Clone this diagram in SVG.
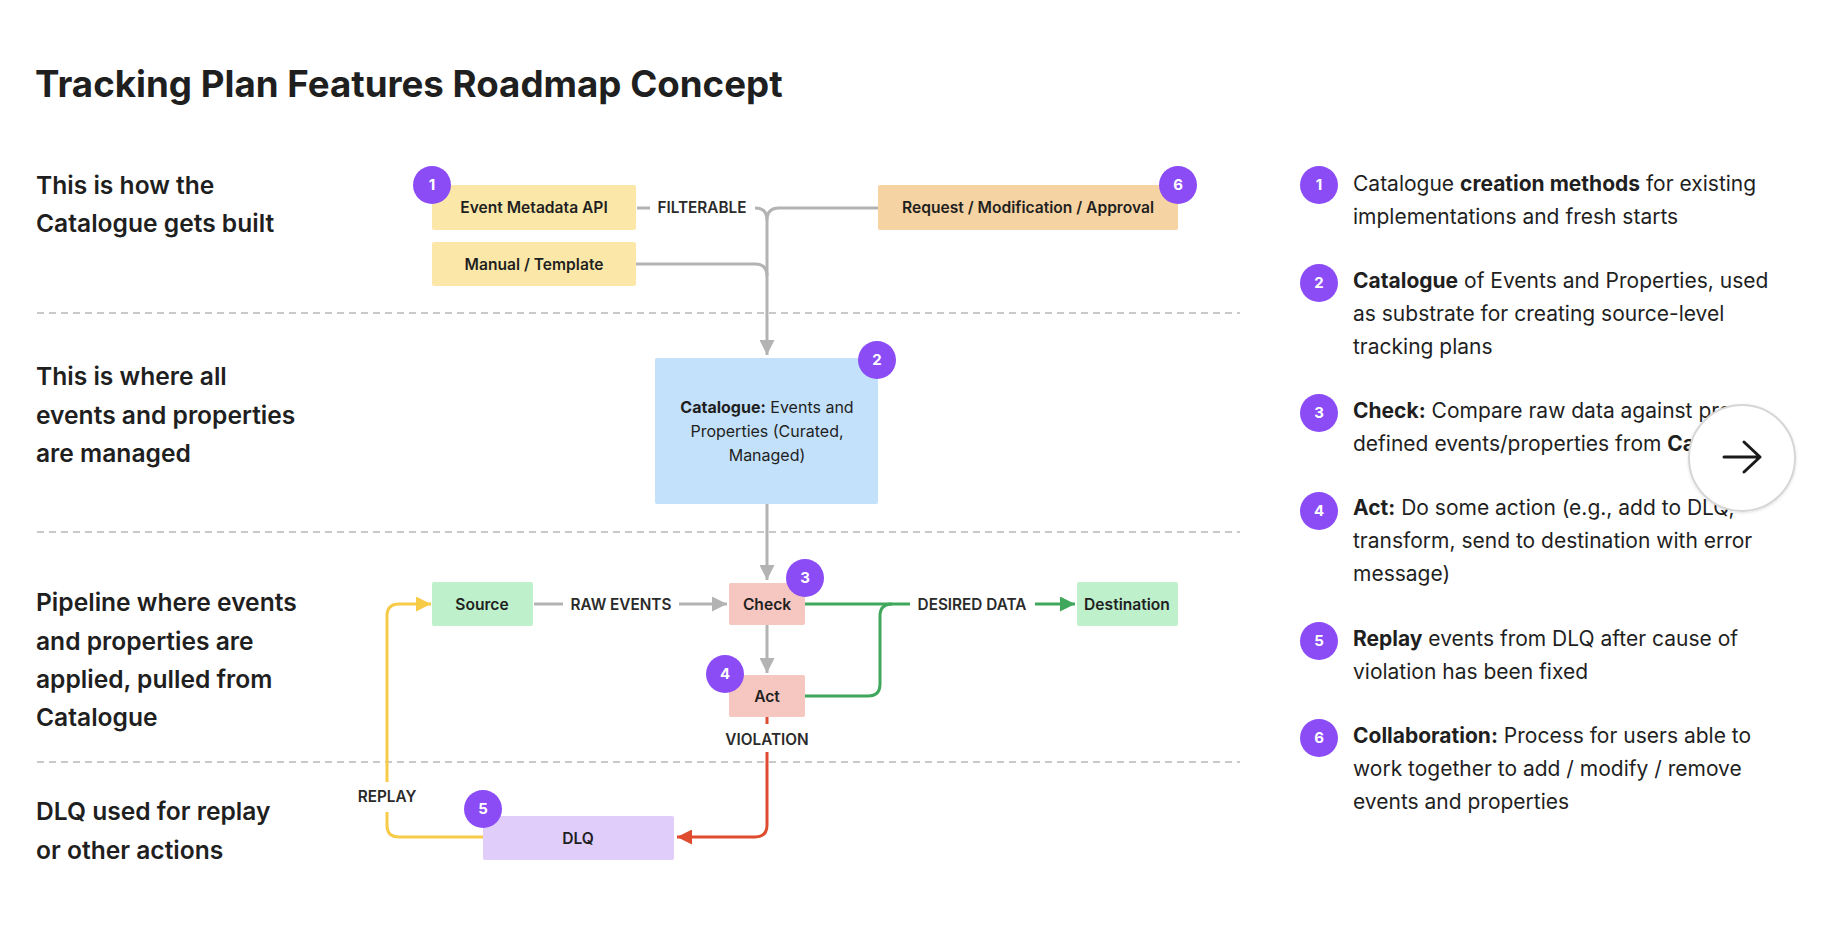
<svg xmlns="http://www.w3.org/2000/svg" width="1846" height="926" viewBox="0 0 1846 926">
<defs>
<style>
text{font-family:Inter,"Liberation Sans",sans-serif;fill:#1f1f1f}
.title{font-size:36.7px;font-weight:700}
.sec{font-size:24.6px;font-weight:600}
.box{font-size:15.6px;font-weight:600;text-anchor:middle}
.cat{font-size:16px;text-anchor:middle}
.lbl{font-size:15.3px;font-weight:600;text-anchor:middle;fill:#2a2a2a}
.badge circle{fill:#8b4cf6}
.badge text{fill:#fff;font-size:15px;font-weight:700;text-anchor:middle}
.list{font-size:21px}
.b{font-weight:700}
.sep{stroke:#c9c9c9;stroke-width:2;stroke-dasharray:7 5;fill:none}
.g{stroke:#b3b3b3;stroke-width:3;fill:none}
.gr{stroke:#3ea75b;stroke-width:3;fill:none}
.rd{stroke:#df4b2e;stroke-width:3;fill:none}
.yl{stroke:#f7cb48;stroke-width:3;fill:none}
</style>
<marker id="ag" viewBox="0 0 10 10" refX="10" refY="5" markerWidth="5" markerHeight="5" markerUnits="strokeWidth" orient="auto"><path d="M0,0L10,5L0,10z" fill="#b3b3b3"/></marker>
<marker id="agr" viewBox="0 0 10 10" refX="10" refY="5" markerWidth="5" markerHeight="5" markerUnits="strokeWidth" orient="auto"><path d="M0,0L10,5L0,10z" fill="#3ea75b"/></marker>
<marker id="ard" viewBox="0 0 10 10" refX="10" refY="5" markerWidth="5" markerHeight="5" markerUnits="strokeWidth" orient="auto"><path d="M0,0L10,5L0,10z" fill="#df4b2e"/></marker>
<marker id="ayl" viewBox="0 0 10 10" refX="10" refY="5" markerWidth="5" markerHeight="5" markerUnits="strokeWidth" orient="auto"><path d="M0,0L10,5L0,10z" fill="#f7cb48"/></marker>
<filter id="sh" x="-20%" y="-20%" width="140%" height="140%"><feDropShadow dx="0" dy="1" stdDeviation="1.5" flood-color="#000" flood-opacity="0.12"/></filter>
</defs>
<rect width="1846" height="926" fill="#fff"/>

<text class="title" x="35" y="97">Tracking Plan Features Roadmap Concept</text>

<g id="section-labels">
<text class="sec" x="36" y="194">This is how the</text>
<text class="sec" x="36" y="232">Catalogue gets built</text>
<text class="sec" x="36" y="385">This is where all</text>
<text class="sec" x="36" y="424">events and properties</text>
<text class="sec" x="36" y="462">are managed</text>
<text class="sec" x="36" y="611">Pipeline where events</text>
<text class="sec" x="36" y="650">and properties are</text>
<text class="sec" x="36" y="688">applied, pulled from</text>
<text class="sec" x="36" y="726">Catalogue</text>
<text class="sec" x="36" y="820">DLQ used for replay</text>
<text class="sec" x="36" y="859">or other actions</text>
</g>

<g id="separators">
<line class="sep" x1="37" y1="313" x2="1240" y2="313"/>
<line class="sep" x1="37" y1="532" x2="1240" y2="532"/>
<line class="sep" x1="37" y1="762" x2="1240" y2="762"/>
</g>

<g id="connectors">
<path class="g" d="M637,208L650,208"/>
<text class="lbl" x="702" y="213">FILTERABLE</text>
<path class="g" d="M755,208Q767,208 767,220"/>
<path class="g" d="M878,208L779,208Q767,208 767,220"/>
<path class="g" d="M636,264L755,264Q767,264 767,276"/>
<path class="g" d="M767,220L767,355" marker-end="url(#ag)"/>
<path class="g" d="M767,504L767,580" marker-end="url(#ag)"/>
<path class="g" d="M767,625L767,673" marker-end="url(#ag)"/>
<path class="g" d="M534,604L563,604"/>
<text class="lbl" x="621" y="610">RAW EVENTS</text>
<path class="g" d="M679,604L727,604" marker-end="url(#ag)"/>
<path class="gr" d="M805,604L910,604"/>
<path class="gr" d="M805,696L868,696Q880,696 880,684L880,616Q880,604 892,604"/>
<text class="lbl" x="972" y="610">DESIRED DATA</text>
<path class="gr" d="M1035,604L1075,604" marker-end="url(#agr)"/>
<path class="rd" d="M767,717L767,724"/>
<text class="lbl" x="767" y="745">VIOLATION</text>
<path class="rd" d="M767,752L767,825Q767,837 755,837L677,837" marker-end="url(#ard)"/>
<path class="yl" d="M483,837L399,837Q387,837 387,825L387,812"/>
<text class="lbl" x="387" y="802">REPLAY</text>
<path class="yl" d="M387,782L387,616Q387,604 399,604L431,604" marker-end="url(#ayl)"/>
</g>

<g id="node-event-metadata-api">
<rect x="432" y="185" width="204" height="45" rx="2" fill="#fbe8a9"/>
<text class="box" x="534" y="213">Event Metadata API</text>
</g>
<g id="node-manual-template">
<rect x="432" y="242" width="204" height="44" rx="2" fill="#fbe8a9"/>
<text class="box" x="534" y="270">Manual / Template</text>
</g>
<g id="node-request">
<rect x="878" y="185" width="300" height="45" rx="2" fill="#f6d3a2"/>
<text class="box" x="1028" y="213">Request / Modification / Approval</text>
</g>
<g id="node-catalogue">
<rect x="655" y="358" width="223" height="146" rx="2" fill="#c3e1fa"/>
<text class="cat" x="767" y="413"><tspan class="b">Catalogue:</tspan> Events and</text>
<text class="cat" x="767" y="437">Properties (Curated,</text>
<text class="cat" x="767" y="461">Managed)</text>
</g>
<g id="node-source">
<rect x="432" y="582" width="101" height="44" rx="2" fill="#bdf0cb"/>
<text class="box" x="482" y="610">Source</text>
</g>
<g id="node-check">
<rect x="729" y="583" width="76" height="42" rx="2" fill="#f6c7c0"/>
<text class="box" x="767" y="610">Check</text>
</g>
<g id="node-destination">
<rect x="1077" y="582" width="101" height="44" rx="2" fill="#bdf0cb"/>
<text class="box" x="1127" y="610">Destination</text>
</g>
<g id="node-act">
<rect x="729" y="675" width="76" height="42" rx="2" fill="#f6c7c0"/>
<text class="box" x="767" y="702">Act</text>
</g>
<g id="node-dlq">
<rect x="483" y="816" width="191" height="44" rx="2" fill="#e0cdfa"/>
<text class="box" x="578" y="844">DLQ</text>
</g>

<g id="badges">
<g class="badge"><circle cx="432" cy="185" r="19"/><text x="432" y="190">1</text></g>
<g class="badge"><circle cx="1178" cy="185" r="19"/><text x="1178" y="190">6</text></g>
<g class="badge"><circle cx="877" cy="360" r="19"/><text x="877" y="365">2</text></g>
<g class="badge"><circle cx="805" cy="578" r="19"/><text x="805" y="583">3</text></g>
<g class="badge"><circle cx="725" cy="674" r="19"/><text x="725" y="679">4</text></g>
<g class="badge"><circle cx="483" cy="809" r="19"/><text x="483" y="814">5</text></g>
</g>

<g id="legend">
<g class="badge"><circle cx="1319" cy="185" r="19"/><text x="1319" y="190">1</text></g>
<text class="list" x="1353" y="191">Catalogue <tspan class="b">creation methods</tspan> for existing</text>
<text class="list" x="1353" y="224">implementations and fresh starts</text>

<g class="badge"><circle cx="1319" cy="283" r="19"/><text x="1319" y="288">2</text></g>
<text class="list" x="1353" y="288"><tspan class="b">Catalogue</tspan> of Events and Properties, used</text>
<text class="list" x="1353" y="321">as substrate for creating source-level</text>
<text class="list" x="1353" y="354">tracking plans</text>

<g class="badge"><circle cx="1319" cy="413" r="19"/><text x="1319" y="418">3</text></g>
<text class="list" x="1353" y="418"><tspan class="b">Check:</tspan> Compare raw data against pre-</text>
<text class="list" x="1353" y="451">defined events/properties from <tspan class="b">Catalogue</tspan></text>

<g class="badge"><circle cx="1319" cy="511" r="19"/><text x="1319" y="516">4</text></g>
<text class="list" x="1353" y="515"><tspan class="b">Act:</tspan> Do some action (e.g., add to DLQ,</text>
<text class="list" x="1353" y="548">transform, send to destination with error</text>
<text class="list" x="1353" y="581">message)</text>

<g class="badge"><circle cx="1319" cy="641" r="19"/><text x="1319" y="646">5</text></g>
<text class="list" x="1353" y="646"><tspan class="b">Replay</tspan> events from DLQ after cause of</text>
<text class="list" x="1353" y="679">violation has been fixed</text>

<g class="badge"><circle cx="1319" cy="738" r="19"/><text x="1319" y="743">6</text></g>
<text class="list" x="1353" y="743"><tspan class="b">Collaboration:</tspan> Process for users able to</text>
<text class="list" x="1353" y="776">work together to add / modify / remove</text>
<text class="list" x="1353" y="809">events and properties</text>
</g>

<g id="next-button">
<circle cx="1742" cy="458" r="53" fill="#fff" stroke="#d6d6d6" stroke-width="2" filter="url(#sh)"/>
<path d="M1724,457L1760,457M1744,442L1760,457L1744,472" fill="none" stroke="#1a1a1a" stroke-width="3" stroke-linecap="round" stroke-linejoin="round"/>
</g>
</svg>
